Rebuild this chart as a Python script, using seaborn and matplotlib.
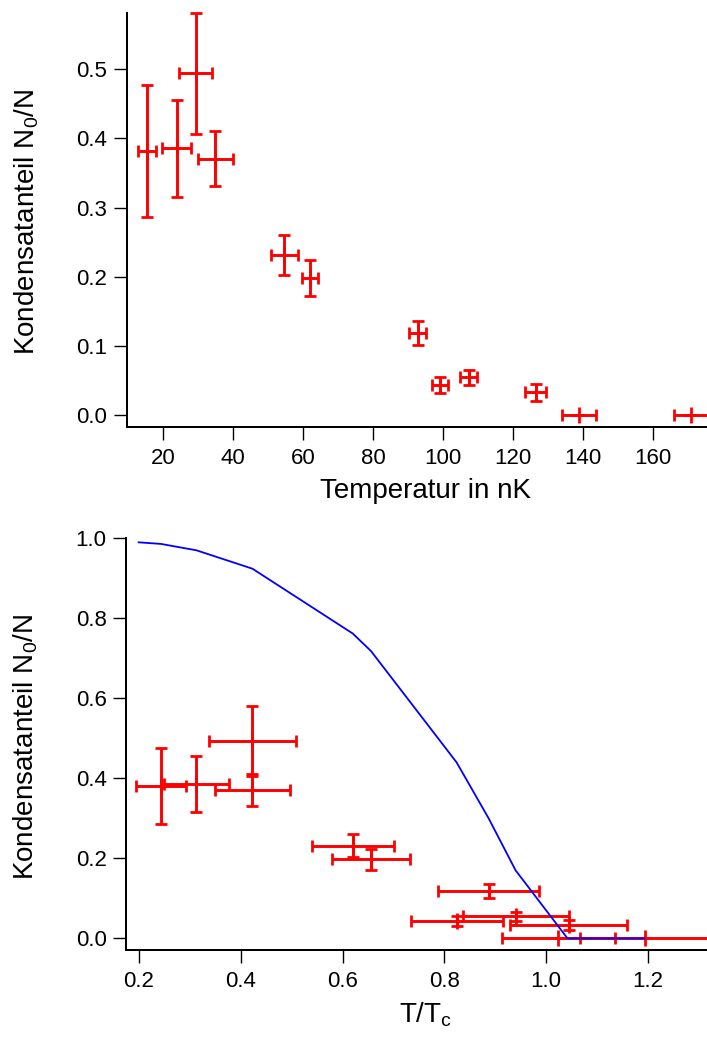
import matplotlib
matplotlib.use("Agg")
import matplotlib.pyplot as plt
import seaborn as sns
from matplotlib.ticker import FormatStrFormatter, MultipleLocator

# Condensate fraction measurements (one entry per run)
temperature_nK = [15.5, 23.9, 29.3, 35.0, 54.7, 62.0, 92.8, 99.1, 107.4, 126.5, 139.0, 171.0]
temperature_err_nK = [2.5, 4.1, 4.8, 4.9, 3.9, 2.4, 2.5, 2.3, 2.4, 2.9, 4.9, 4.8]
condensate_fraction = [0.382, 0.386, 0.494, 0.371, 0.232, 0.198, 0.119, 0.044, 0.055, 0.033, 0.0, 0.0]
condensate_fraction_err = [0.095, 0.070, 0.088, 0.040, 0.029, 0.026, 0.017, 0.012, 0.011, 0.012, 0.0, 0.0]
reduced_temperature = [0.243, 0.313, 0.423, 0.423, 0.620, 0.656, 0.887, 0.825, 0.941, 1.044, 1.024, 1.194]
reduced_temperature_err = [0.049, 0.064, 0.085, 0.074, 0.081, 0.076, 0.099, 0.091, 0.104, 0.115, 0.111, 0.128]

# Ideal-gas prediction sampled along T/Tc
theory_t = [0.199, 0.243, 0.313, 0.423, 0.620, 0.656, 0.824, 0.887, 0.940, 1.042, 1.194]
theory_fraction = [0.990, 0.986, 0.970, 0.924, 0.762, 0.718, 0.440, 0.300, 0.170, 0.0, 0.0]

sns.set_theme(style="ticks")
plt.rcParams["font.family"] = ["Liberation Sans", "DejaVu Sans"]
plt.rcParams.update({
    "mathtext.fontset": "custom",
    "mathtext.rm": "Liberation Sans",
    "mathtext.it": "Liberation Sans:italic",
    "mathtext.bf": "Liberation Sans:bold",
    "axes.edgecolor": "black",
    "axes.linewidth": 1.44,
    "text.color": "black",
    "axes.labelcolor": "black",
    "xtick.color": "black",
    "ytick.color": "black",
    "xtick.direction": "out",
    "ytick.direction": "out",
    "xtick.major.size": 9.4,
    "ytick.major.size": 9.4,
    "xtick.major.width": 1.0,
    "ytick.major.width": 1.0,
    "xtick.major.pad": 5.8,
    "ytick.major.pad": 4.5,
    "xtick.labelsize": 16,
    "ytick.labelsize": 16,
    "axes.labelsize": 20,
})

fig = plt.figure(figsize=(7.07, 10.37), dpi=100)
ax1 = fig.add_axes([0.1792, 0.5880, 0.8208, 0.3998])
ax2 = fig.add_axes([0.1782, 0.0839, 0.8218, 0.3970])

err_style = dict(fmt="|", color="red", ms=11.5, mew=2.0, elinewidth=2.1,
                 capsize=4, capthick=2.1, clip_on=False, zorder=3)

# Top: fraction against absolute temperature
ax1.errorbar(temperature_nK, condensate_fraction, xerr=temperature_err_nK,
             yerr=condensate_fraction_err, **err_style)
ax1.set_xlim(9.63, 175.5)
ax1.set_ylim(-0.0173, 0.5818)
ax1.xaxis.set_major_locator(MultipleLocator(20))
ax1.yaxis.set_major_locator(MultipleLocator(0.1))
ax1.yaxis.set_major_formatter(FormatStrFormatter("%.1f"))
ax1.set_xlabel("Temperatur in nK")
ax1.set_ylabel("Kondensatanteil N$_0$/N")

# Bottom: fraction against reduced temperature with theory curve
ax2.errorbar(reduced_temperature, condensate_fraction, xerr=reduced_temperature_err,
             yerr=condensate_fraction_err, **err_style)
sns.lineplot(x=theory_t, y=theory_fraction, ax=ax2, color="blue", lw=1.3,
             sort=False, estimator=None, zorder=4)
ax2.set_xlim(0.1745, 1.316)
ax2.set_ylim(-0.029, 1.0)
ax2.xaxis.set_major_locator(MultipleLocator(0.2))
ax2.yaxis.set_major_locator(MultipleLocator(0.2))
ax2.xaxis.set_major_formatter(FormatStrFormatter("%.1f"))
ax2.yaxis.set_major_formatter(FormatStrFormatter("%.1f"))
ax2.set_xlabel(r"T/T$_\mathregular{c}$")
ax2.set_ylabel("Kondensatanteil N$_0$/N")

for ax in (ax1, ax2):
    sns.despine(ax=ax)
    ax.xaxis.set_label_coords(0.515, -0.122)
    ax.yaxis.set_label_coords(-0.148, 0.494)

fig.savefig("out.png", dpi=100)
